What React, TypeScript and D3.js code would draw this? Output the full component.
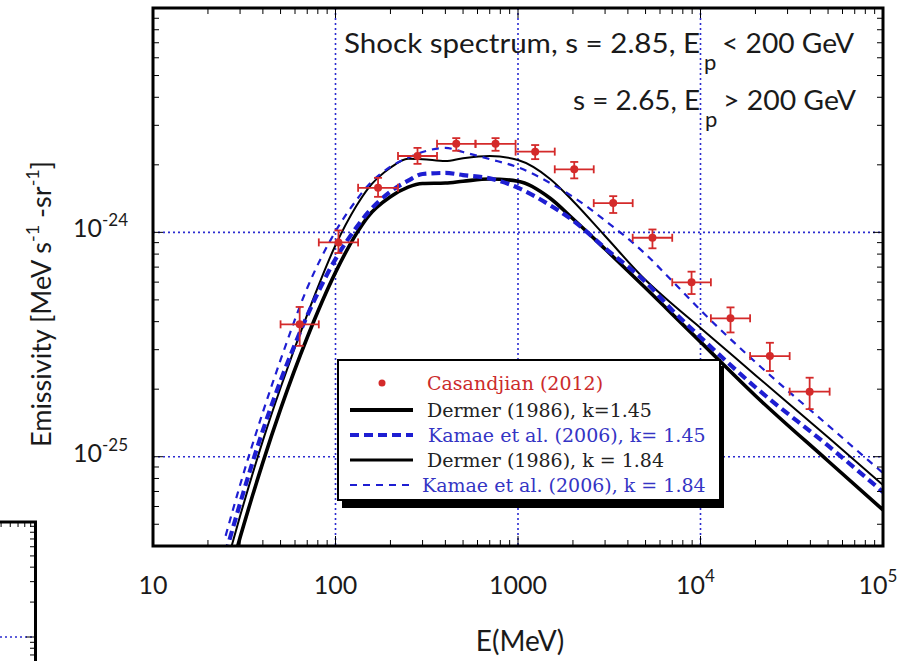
import React from 'react';
import * as d3 from 'd3';

// ---------- data ----------
const energyGrid = [25, 30, 40, 50, 70, 100, 130, 150, 200, 250, 300, 400, 500, 700, 1000, 1500, 2000, 3000, 5000, 7000, 1e4, 2e4, 5e4, 1e5];

const dermer145 = [2.57e-26, 4.36e-26, 9.44e-26, 1.63e-25, 3.40e-25, 6.63e-25, 9.85e-25, 1.17e-24, 1.44e-24, 1.59e-24, 1.65e-24, 1.66e-24, 1.69e-24, 1.73e-24, 1.69e-24, 1.42e-24, 1.15e-24, 8.43e-25, 5.65e-25, 4.32e-25, 3.25e-25, 1.87e-25, 9.57e-26, 5.79e-26];
const kamae145 = [3.71e-26, 6.19e-26, 1.31e-25, 2.18e-25, 4.25e-25, 7.60e-25, 1.05e-24, 1.22e-24, 1.52e-24, 1.70e-24, 1.82e-24, 1.84e-24, 1.80e-24, 1.74e-24, 1.58e-24, 1.32e-24, 1.13e-24, 8.51e-25, 6.01e-25, 4.50e-25, 3.41e-25, 2.04e-25, 1.12e-25, 6.96e-26];
const dermer184 = [3.21e-26, 5.44e-26, 1.18e-25, 2.03e-25, 4.30e-25, 8.76e-25, 1.31e-24, 1.56e-24, 1.94e-24, 2.13e-24, 2.12e-24, 2.08e-24, 2.14e-24, 2.19e-24, 2.10e-24, 1.73e-24, 1.38e-24, 9.63e-25, 6.13e-25, 4.79e-25, 3.75e-25, 2.31e-25, 1.22e-25, 7.48e-26];
const kamae184 = [4.44e-26, 7.48e-26, 1.58e-25, 2.70e-25, 5.65e-25, 1.01e-24, 1.39e-24, 1.61e-24, 1.96e-24, 2.15e-24, 2.28e-24, 2.38e-24, 2.28e-24, 2.12e-24, 1.95e-24, 1.66e-24, 1.44e-24, 1.13e-24, 8.00e-25, 6.07e-25, 4.50e-25, 2.64e-25, 1.38e-25, 8.46e-26];

const casEnergyLo = [50, 81, 133, 220, 360, 585, 970, 1590, 2600, 4250, 7000, 11400, 18700, 30800];
const casEnergyHi = [81, 133, 220, 360, 585, 970, 1590, 2600, 4250, 7000, 11400, 18700, 30800, 51000];
const casValue = [3.89e-25, 9.02e-25, 1.58e-24, 2.19e-24, 2.48e-24, 2.48e-24, 2.29e-24, 1.91e-24, 1.35e-24, 9.46e-25, 5.99e-25, 4.14e-25, 2.81e-25, 1.95e-25];
const casErrLo = [3.12e-25, 8.09e-25, 1.44e-24, 2.02e-24, 2.31e-24, 2.31e-24, 2.12e-24, 1.74e-24, 1.22e-24, 8.49e-25, 5.31e-25, 3.58e-25, 2.41e-25, 1.63e-25];
const casErrHi = [4.65e-25, 1.02e-24, 1.75e-24, 2.38e-24, 2.63e-24, 2.63e-24, 2.45e-24, 2.06e-24, 1.45e-24, 1.03e-24, 6.68e-25, 4.63e-25, 3.22e-25, 2.25e-25];

const xTickValues = [10, 100, 1000, 1e4, 1e5];
const xTickBase = ['10', '100', '1000', '10', '10'];
const xTickSup = ['', '', '', '4', '5'];
const yTickValues = [1e-24, 1e-25];
const yTickSup = ['-24', '-25'];
const xGrid = [100, 1000, 1e4];
const yGrid = [1e-24, 1e-25];

const legendLabels = ['Casandjian (2012)', 'Dermer (1986), k=1.45', 'Kamae et al. (2006), k= 1.45', 'Dermer (1986), k = 1.84', 'Kamae et al. (2006), k = 1.84'];

const RED = '#d42a2a';
const BLUE = '#1e1ed2';
const GRIDBLUE = '#2b2bd0';
const SANS = 'Lato, "Open Sans", sans-serif';
const SERIF = '"DejaVu Serif", serif';

export default function App() {
  const x = d3.scaleLog().domain([10, 1e5]).range([153, 883]);
  const y = d3.scaleLog().domain([4e-26, 1e-23]).range([546, 8]);
  const [x0, x1] = x.range();
  const [y0, y1] = y.range();

  const mkLine = (vals: number[]) =>
    d3.line<number>().x((_, i) => x(energyGrid[i])).y((v) => y(v)).curve(d3.curveMonotoneX)(vals) || '';

  const curves = [
    { vals: dermer145, color: '#000', w: 3.6, dash: '' },
    { vals: dermer184, color: '#000', w: 2.0, dash: '' },
    { vals: kamae145, color: BLUE, w: 4.2, dash: '9,5' },
    { vals: kamae184, color: BLUE, w: 2.2, dash: '7,6' },
  ];

  const xTicksAll: { v: number; major: boolean }[] = [];
  for (let d = 1; d <= 5; d++) for (let k = 1; k <= 9; k++) {
    const v = k * Math.pow(10, d);
    if (v >= 10 && v <= 1e5) xTicksAll.push({ v, major: k === 1 });
  }
  const yTicksAll: { v: number; major: boolean }[] = [];
  for (let e = -26; e <= -23; e++) for (let k = 1; k <= 9; k++) {
    const v = k * Math.pow(10, e);
    if (v >= 4e-26 * 0.999 && v <= 1e-23 * 1.001) yTicksAll.push({ v, major: k === 1 });
  }

  // fragment of a neighbouring panel (bottom-left)
  const fy = d3.scaleLog().domain([1e-25, 1e-24]).range([637, 521]);
  const fx = d3.scaleLog().domain([1, 10]).range([36 - 116, 36]);
  const fyTicks: { v: number; major: boolean }[] = [];
  for (let e = -26; e <= -25; e++) for (let k = 1; k <= 9; k++) {
    const v = k * Math.pow(10, e);
    const py = fy(v);
    if (py > 524 && py < 661) fyTicks.push({ v, major: k === 1 });
  }
  const fxTicks: number[] = [];
  for (let k = 2; k <= 9; k++) if (fx(k) > 0 && fx(k) < 34) fxTicks.push(k);

  const legendRows = [383, 410, 435, 460, 485];
  const legendTextX = [427, 427, 428, 427, 422];

  return (
    <svg width={913} height={661} style={{ position: 'absolute', left: 0, top: 0, display: 'block' }}>
      <rect x={0} y={0} width={913} height={661} fill="#fff" />
      <defs>
        <clipPath id="plotClip">
          <rect x={x0} y={y1} width={x1 - x0} height={y0 - y1} />
        </clipPath>
      </defs>

      {/* neighbouring panel fragment */}
      <g>
        <line x1={0} x2={33} y1={fy(1e-25)} y2={fy(1e-25)} stroke={GRIDBLUE} strokeWidth={1.6} strokeDasharray="2,3" />
        {fyTicks.map((t, i) => (
          <line key={'fy' + i} x1={35} x2={35 - (t.major ? 9 : 5)} y1={fy(t.v)} y2={fy(t.v)} stroke="#000" strokeWidth={1} />
        ))}
        {fxTicks.map((k, i) => (
          <line key={'fx' + i} x1={fx(k)} x2={fx(k)} y1={522} y2={527} stroke="#000" strokeWidth={1} />
        ))}
        <path d={`M0,${fy(1e-24) + 1}H${fx(10) - 0.5}V661`} fill="none" stroke="#000" strokeWidth={3} />
      </g>

      {/* grid */}
      {xGrid.map((v, i) => (
        <line key={'gx' + i} x1={x(v)} x2={x(v)} y1={y1} y2={y0} stroke={GRIDBLUE} strokeWidth={1.6} strokeDasharray="2,3" />
      ))}
      {yGrid.map((v, i) => (
        <line key={'gy' + i} x1={x0} x2={x1} y1={y(v)} y2={y(v)} stroke={GRIDBLUE} strokeWidth={1.6} strokeDasharray="2,3" />
      ))}

      {/* model curves */}
      <g clipPath="url(#plotClip)">
        {curves.map((c, i) => (
          <path key={'c' + i} d={mkLine(c.vals)} fill="none" stroke={c.color} strokeWidth={c.w} strokeDasharray={c.dash || undefined} />
        ))}
      </g>

      {/* data points */}
      <g stroke={RED} strokeWidth={1.8} fill={RED}>
        {casValue.map((v, i) => {
          const cx = x(Math.sqrt(casEnergyLo[i] * casEnergyHi[i]));
          const cy = y(v);
          const xl = x(casEnergyLo[i]);
          const xh = x(casEnergyHi[i]);
          const yl = y(casErrLo[i]);
          const yh = y(casErrHi[i]);
          return (
            <g key={'p' + i}>
              <line x1={xl} x2={xh} y1={cy} y2={cy} />
              <line x1={xl} x2={xl} y1={cy - 4} y2={cy + 4} />
              <line x1={xh} x2={xh} y1={cy - 4} y2={cy + 4} />
              <line x1={cx} x2={cx} y1={yl} y2={yh} />
              <line x1={cx - 4} x2={cx + 4} y1={yl} y2={yl} />
              <line x1={cx - 4} x2={cx + 4} y1={yh} y2={yh} />
              <circle cx={cx} cy={cy} r={4} stroke="none" />
            </g>
          );
        })}
      </g>

      {/* legend */}
      <g>
        <rect x={342} y={366} width={382} height={142} fill="#000" />
        <rect x={338} y={360} width={382} height={140} fill="#fff" stroke="#000" strokeWidth={2} />
        <circle cx={382} cy={legendRows[0]} r={3.5} fill={RED} />
        <line x1={350} x2={413} y1={legendRows[1]} y2={legendRows[1]} stroke="#000" strokeWidth={4} />
        <line x1={350} x2={413} y1={legendRows[2]} y2={legendRows[2]} stroke={BLUE} strokeWidth={4.2} strokeDasharray="9,5" />
        <line x1={350} x2={413} y1={legendRows[3]} y2={legendRows[3]} stroke="#000" strokeWidth={3} />
        <line x1={350} x2={411} y1={legendRows[4]} y2={legendRows[4]} stroke={BLUE} strokeWidth={2.2} strokeDasharray="7,6" />
        {legendLabels.map((t, i) => (
          <text key={'lt' + i} x={legendTextX[i]} y={legendRows[i] + 7} fontFamily={SERIF} fontSize={19}
            fill={i === 0 ? '#cc2b2b' : i === 2 || i === 4 ? '#3434c4' : '#222'}>{t}</text>
        ))}
      </g>

      {/* annotation */}
      <g fontFamily={SANS} fontSize={26} fill="#1a1a1a">
        <text x={344} y={53} textLength={356} lengthAdjust="spacingAndGlyphs">Shock spectrum, s = 2.85, E</text>
        <text x={704} y={70} fontSize={22}>p</text>
        <text x={722} y={53} textLength={132} lengthAdjust="spacingAndGlyphs">&lt; 200 GeV</text>
        <text x={573} y={110} textLength={127} lengthAdjust="spacingAndGlyphs">s = 2.65, E</text>
        <text x={705} y={127} fontSize={22}>p</text>
        <text x={723} y={110} textLength={133} lengthAdjust="spacingAndGlyphs">&gt; 200 GeV</text>
      </g>

      {/* axes frame and ticks */}
      <g stroke="#000" strokeWidth={1}>
        {xTicksAll.map((t, i) => (
          <g key={'xt' + i}>
            <line x1={x(t.v)} x2={x(t.v)} y1={y0} y2={y0 - (t.major ? 10 : 6)} />
            <line x1={x(t.v)} x2={x(t.v)} y1={y1} y2={y1 + (t.major ? 10 : 6)} />
          </g>
        ))}
        {yTicksAll.map((t, i) => (
          <g key={'yt' + i}>
            <line x1={x0} x2={x0 + (t.major ? 10 : 6)} y1={y(t.v)} y2={y(t.v)} />
            <line x1={x1} x2={x1 - (t.major ? 10 : 6)} y1={y(t.v)} y2={y(t.v)} />
          </g>
        ))}
      </g>
      <rect x={x0} y={y1} width={x1 - x0} height={y0 - y1} fill="none" stroke="#000" strokeWidth={3} />

      {/* tick labels */}
      <g fontFamily={SANS} fontSize={25} fill="#1a1a1a">
        {xTickValues.map((v, i) => (
          <text key={'xl' + i} x={x(v) - (xTickSup[i] ? 5 : 0)} y={594} textAnchor="middle">
            {xTickBase[i]}
            {xTickSup[i] ? <tspan fontSize={17} dy={-12}>{xTickSup[i]}</tspan> : null}
          </text>
        ))}
        {yTickValues.map((v, i) => (
          <text key={'yl' + i} x={128} y={y(v) + 5} textAnchor="end">
            10<tspan fontSize={17} dy={-11}>{yTickSup[i]}</tspan>
          </text>
        ))}
      </g>

      {/* axis titles */}
      <text x={520} y={651} textAnchor="middle" fontFamily={SANS} fontSize={28} fill="#1a1a1a">E(MeV)</text>
      <text transform="translate(51,304) rotate(-90)" textAnchor="middle" fontFamily={SANS} fontSize={27} fill="#1a1a1a">
        Emissivity [MeV s<tspan fontSize={18} dy={-12}>-1</tspan><tspan dy={12}> -sr</tspan><tspan fontSize={18} dy={-12}>-1</tspan><tspan dy={12}>]</tspan>
      </text>
    </svg>
  );
}
